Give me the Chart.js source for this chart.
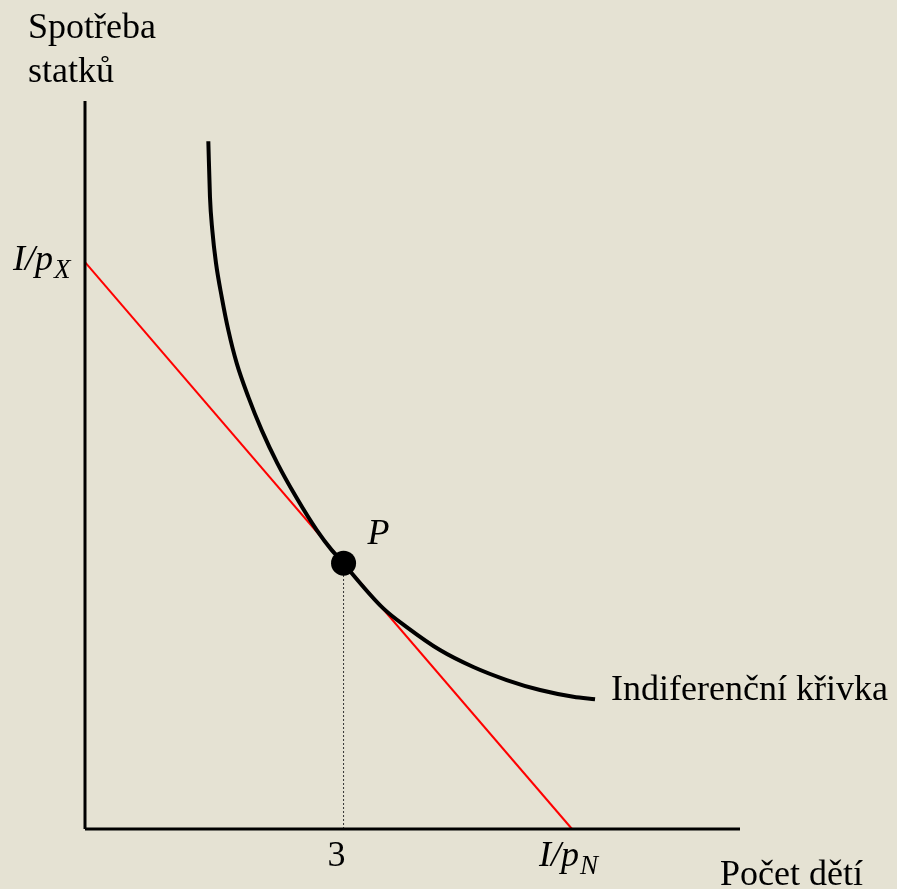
<!DOCTYPE html>
<html><head><meta charset="utf-8">
<script src="https://cdn.jsdelivr.net/npm/chart.js@4/dist/chart.umd.min.js"></script>
<style>html,body{margin:0;padding:0;background:#E5E2D3;}#wrap{width:897px;height:889px;}</style>
</head><body><div id="wrap"><canvas id="c" width="897" height="889"></canvas></div>
<script>
// Indifference curve (x = number of children, y = consumption of goods)
const indiffX = [1.431, 1.450, 1.477, 1.520, 1.586, 1.663, 1.760, 1.895, 2.050, 2.231, 2.448, 2.689, 2.863, 3.000, 3.075, 3.461, 3.733, 4.119, 4.506, 4.893, 5.280, 5.666, 5.918];
const indiffY = [7.983, 7.337, 6.951, 6.568, 6.177, 5.790, 5.407, 5.016, 4.630, 4.247, 3.856, 3.469, 3.237, 3.090, 2.994, 2.561, 2.344, 2.077, 1.880, 1.729, 1.613, 1.535, 1.505];
// Budget line end points
const budgetX = [0, 5.651];
const budgetY = [6.579, 0];
// Optimum point P
const pointPX = [3];
const pointPY = [3.086];
// Axes extents
const axisMaxX = 7.6;
const axisMaxY = 8.45;
// Texts
const yTitle = ['Spotřeba', 'statků'];
const xTitle = 'Počet dětí';
const curveLabel = 'Indiferenční křivka';
const pointLabel = 'P';
const xTickLabel = '3';
const budgetLabelMain = 'I/p';
const budgetSubY = 'X';
const budgetSubX = 'N';

const pts = (xs, ys) => xs.map((x, i) => ({x: x, y: ys[i]}));

const bgPlugin = {
  id: 'bg',
  beforeDraw(chart) {
    const c = chart.ctx;
    c.save(); c.fillStyle = '#E5E2D3'; c.fillRect(0, 0, chart.width, chart.height); c.restore();
  }
};

const textPlugin = {
  id: 'texts',
  afterDatasetsDraw(chart) {
    const c = chart.ctx, xs = chart.scales.x, ys = chart.scales.y, a = chart.chartArea;
    const F = '"Liberation Serif", "Times New Roman", serif';
    c.save();
    c.fillStyle = '#000';
    c.textBaseline = 'alphabetic';
    c.textAlign = 'left';
    c.font = '36px ' + F;
    c.fillText(yTitle[0], a.left - 57, a.top - 63);
    c.fillText(yTitle[1], a.left - 57, a.top - 19);
    c.fillText(xTitle, 720, a.bottom + 56);
    const lx = xs.getPixelForValue(indiffX[indiffX.length - 1]);
    const ly = ys.getPixelForValue(indiffY[indiffY.length - 1]);
    c.fillText(curveLabel, lx + 16, ly + 1);
    c.textAlign = 'center';
    c.fillText(xTickLabel, xs.getPixelForValue(pointPX[0]) - 7, a.bottom + 37);
    c.textAlign = 'left';
    // P label
    c.font = 'italic 36px ' + F;
    c.fillText(pointLabel, xs.getPixelForValue(pointPX[0]) + 24, ys.getPixelForValue(pointPY[0]) - 19);
    // I/pX
    const byPix = ys.getPixelForValue(budgetY[0]);
    c.font = 'italic 36px ' + F;
    let x0 = 13;
    c.fillText(budgetLabelMain, x0, byPix + 8);
    let w = c.measureText(budgetLabelMain).width;
    c.font = 'italic 27px ' + F;
    c.fillText(budgetSubY, x0 + w + 1, byPix + 16);
    // I/pN
    const bxPix = xs.getPixelForValue(budgetX[1]);
    c.font = 'italic 36px ' + F;
    x0 = bxPix - 33;
    c.fillText(budgetLabelMain, x0, a.bottom + 37);
    w = c.measureText(budgetLabelMain).width;
    c.font = 'italic 27px ' + F;
    c.fillText(budgetSubX, x0 + w + 1, a.bottom + 45);
    c.restore();
  }
};

new Chart(document.getElementById('c'), {
  type: 'scatter',
  data: {
    datasets: [
      { data: pts([0, 0], [0, axisMaxY]), showLine: true, borderColor: '#000', borderWidth: 3, pointRadius: 0, clip: false, order: 1 },
      { data: pts([0, axisMaxX], [0, 0]), showLine: true, borderColor: '#000', borderWidth: 3, pointRadius: 0, clip: false, order: 1 },
      { data: pts([pointPX[0], pointPX[0]], [0, pointPY[0]]), showLine: true, borderColor: '#333', borderWidth: 1, borderDash: [2, 2], pointRadius: 0, clip: false, order: 4 },
      { data: pts(budgetX, budgetY), showLine: true, borderColor: '#FF0000', borderWidth: 2, pointRadius: 0, clip: false, order: 3 },
      { data: pts(indiffX, indiffY), showLine: true, borderColor: '#000', borderWidth: 4, pointRadius: 0, cubicInterpolationMode: 'monotone', clip: false, order: 2 },
      { data: pts(pointPX, pointPY), showLine: false, pointRadius: 12.5, pointBackgroundColor: '#000', pointBorderColor: '#000', pointBorderWidth: 0, clip: false, order: 0 }
    ]
  },
  options: {
    responsive: false,
    animation: false,
    layout: { padding: { left: 85, top: 101, right: 157, bottom: 60 } },
    plugins: { legend: { display: false }, tooltip: { enabled: false } },
    scales: {
      x: { type: 'linear', min: 0, max: axisMaxX, display: false },
      y: { type: 'linear', min: 0, max: axisMaxY, display: false }
    }
  },
  plugins: [bgPlugin, textPlugin]
});
</script></body></html>
